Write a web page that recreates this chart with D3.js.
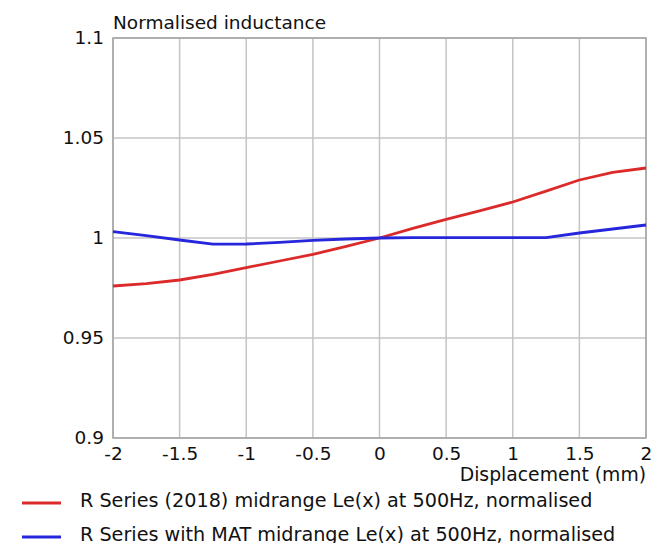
<!DOCTYPE html>
<html>
<head>
<meta charset="utf-8">
<script src="https://cdn.jsdelivr.net/npm/d3@7"></script>
<style>
  body { margin: 0; background: #fff; }
  text { font-family: "DejaVu Sans", Verdana, sans-serif; fill: #111; }
</style>
</head>
<body>
<div id="chart"></div>
<script>
// displacement in mm
const displacement = [-2, -1.75, -1.5, -1.25, -1, -0.75, -0.5, -0.25, 0, 0.25, 0.5, 0.75, 1, 1.25, 1.5, 1.75, 2];
const redValues = [0.976, 0.9772, 0.9790, 0.9818, 0.9852, 0.9885, 0.9918, 0.9958, 1.0, 1.0048, 1.0093, 1.0136, 1.0180, 1.0234, 1.0290, 1.0328, 1.0350];
const blueValues = [1.0032, 1.0012, 0.9990, 0.9969, 0.9970, 0.9978, 0.9988, 0.9995, 1.0, 1.0002, 1.0002, 1.0002, 1.0002, 1.0002, 1.0025, 1.0045, 1.0065];
const seriesNames = [
  "R Series (2018) midrange Le(x) at 500Hz, normalised",
  "R Series with MAT midrange Le(x) at 500Hz, normalised"
];
const seriesColors = ["#dc2a2a", "#2626dc"];
const xTicks = [-2, -1.5, -1, -0.5, 0, 0.5, 1, 1.5, 2];
const yTicks = [0.9, 0.95, 1, 1.05, 1.1];

const width = 656, height = 543;
const margin = { top: 38, right: 10, bottom: 105, left: 113 };
const plotW = width - margin.left - margin.right; // 533
const plotH = height - margin.top - margin.bottom; // 400
const tickFont = 18.5;

const svg = d3.select("#chart").append("svg")
  .attr("width", width)
  .attr("height", height);

const x = d3.scaleLinear().domain([-2, 2]).range([0, plotW]);
const y = d3.scaleLinear().domain([0.9, 1.1]).range([plotH, 0]);

const g = svg.append("g").attr("transform", `translate(${margin.left},${margin.top})`);

// grid
g.append("g")
  .selectAll("line")
  .data(xTicks)
  .join("line")
  .attr("x1", d => x(d)).attr("x2", d => x(d))
  .attr("y1", 0).attr("y2", plotH)
  .attr("stroke", "#c4c4c4").attr("stroke-width", 1.5);

g.append("g")
  .selectAll("line")
  .data(yTicks)
  .join("line")
  .attr("x1", 0).attr("x2", plotW)
  .attr("y1", d => y(d)).attr("y2", d => y(d))
  .attr("stroke", "#c4c4c4").attr("stroke-width", 1.5);

// frame
g.append("rect")
  .attr("x", 0).attr("y", 0)
  .attr("width", plotW).attr("height", plotH)
  .attr("fill", "none").attr("stroke", "#a4a4a4").attr("stroke-width", 1.5);

// axes labels
g.append("g")
  .attr("transform", `translate(0,${plotH})`)
  .call(d3.axisBottom(x).tickValues(xTicks).tickSize(0).tickPadding(9).tickFormat(d => String(d)))
  .call(a => a.select(".domain").remove())
  .call(a => a.selectAll("text").attr("font-size", tickFont).attr("font-family", "DejaVu Sans, Verdana, sans-serif").attr("fill", "#111"));

g.append("g")
  .call(d3.axisLeft(y).tickValues(yTicks).tickSize(0).tickPadding(9).tickFormat(d => String(d)))
  .call(a => a.select(".domain").remove())
  .call(a => a.selectAll("text").attr("font-size", tickFont).attr("font-family", "DejaVu Sans, Verdana, sans-serif").attr("fill", "#111"));

// titles
svg.append("text")
  .attr("x", margin.left).attr("y", 29)
  .attr("font-size", 18.5)
  .text("Normalised inductance");

svg.append("text")
  .attr("x", margin.left + plotW).attr("y", 481)
  .attr("text-anchor", "end")
  .attr("font-size", 18.8)
  .text("Displacement (mm)");

// series
const line = d3.line().x(d => x(d[0])).y(d => y(d[1]));
[redValues, blueValues].forEach((vals, i) => {
  g.append("path")
    .datum(displacement.map((d, j) => [d, vals[j]]))
    .attr("fill", "none")
    .attr("stroke", seriesColors[i])
    .attr("stroke-width", 2.8)
    .attr("stroke-linejoin", "round")
    .attr("d", line);
});

// legend
const legendY = [503, 537];
seriesNames.forEach((name, i) => {
  svg.append("line")
    .attr("x1", 22).attr("x2", 61)
    .attr("y1", legendY[i]).attr("y2", legendY[i])
    .attr("stroke", seriesColors[i]).attr("stroke-width", 2.8);
  svg.append("text")
    .attr("x", 80).attr("y", legendY[i] + 3.5)
    .attr("font-size", 19.2)
    .text(name);
});
</script>
</body>
</html>
